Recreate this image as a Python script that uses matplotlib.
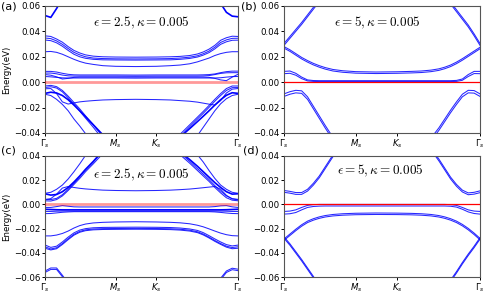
import matplotlib
matplotlib.use("Agg")
import matplotlib.pyplot as plt

# k-path (fraction of total path length) and high-symmetry ticks
kpath = [0.0, 0.03, 0.06, 0.09, 0.12, 0.15, 0.18, 0.21, 0.25, 0.3, 0.366, 0.47,
         0.577, 0.65, 0.7, 0.75, 0.79, 0.82, 0.85, 0.88, 0.91, 0.94, 0.97, 1.0]
k_ticks = [0.0, 0.366, 0.577, 1.0]
k_labels = [r"$\Gamma_s$", r"$M_s$", r"$K_s$", r"$\Gamma_s$"]

# ---- panel (a): eps=2.5 ----
a_top = [0.0525, 0.051, 0.058, 0.066, 0.075, 0.085, 0.095, 0.105, 0.12, 0.14, 0.16, 0.18,
         0.16, 0.14, 0.125, 0.11, 0.098, 0.09, 0.082, 0.073, 0.062, 0.055, 0.052, 0.0515]
a_u1 = [0.0365, 0.036, 0.034, 0.0315, 0.028, 0.025, 0.023, 0.0215, 0.0205, 0.020, 0.0198, 0.0197,
        0.0198, 0.020, 0.0203, 0.021, 0.0222, 0.0238, 0.026, 0.029, 0.033, 0.035, 0.0362, 0.036]
a_u2 = [0.0348, 0.0343, 0.0325, 0.0298, 0.0265, 0.0235, 0.0215, 0.020, 0.019, 0.0186, 0.0184, 0.0183,
        0.0184, 0.0186, 0.019, 0.0197, 0.0208, 0.0224, 0.0245, 0.0275, 0.0313, 0.0333, 0.0345, 0.0346]
a_u3 = [0.0332, 0.0327, 0.031, 0.0283, 0.025, 0.022, 0.020, 0.0188, 0.018, 0.0176, 0.0175, 0.0174,
        0.0175, 0.0176, 0.018, 0.0187, 0.0198, 0.0213, 0.0233, 0.0262, 0.0298, 0.0318, 0.033, 0.0331]
a_u4 = [0.024, 0.0242, 0.0235, 0.022, 0.020, 0.018, 0.0163, 0.015, 0.014, 0.013, 0.0125, 0.0123,
        0.0125, 0.013, 0.0135, 0.0145, 0.016, 0.0175, 0.019, 0.021, 0.0225, 0.0235, 0.024, 0.024]
a_n1 = [0.0085, 0.0085, 0.008, 0.007, 0.0062, 0.0058, 0.0057, 0.0057, 0.0057, 0.0057, 0.0057, 0.0056,
        0.0057, 0.0057, 0.0057, 0.0057, 0.0057, 0.0058, 0.006, 0.0065, 0.0075, 0.0083, 0.0087, 0.0087]
a_n2 = [0.0072, 0.0072, 0.0066, 0.0056, 0.005, 0.0048, 0.0048, 0.0048, 0.0048, 0.0048, 0.0048, 0.0047,
        0.0048, 0.0048, 0.0048, 0.0048, 0.0048, 0.0049, 0.0052, 0.006, 0.0069, 0.0074, 0.0075, 0.0075]
a_n3 = [0.006, 0.0055, 0.0042, 0.0025, 0.003, 0.0038, 0.004, 0.004, 0.004, 0.004, 0.004, 0.004,
        0.004, 0.004, 0.004, 0.004, 0.004, 0.004, 0.0038, 0.003, 0.0018, 0.0012, 0.004, 0.0062]
a_n4 = [0.0045, 0.0042, 0.0038, 0.0034, 0.0033, 0.0033, 0.0033, 0.0033, 0.0033, 0.0033, 0.0033, 0.0032,
        0.0033, 0.0033, 0.0033, 0.0033, 0.0033, 0.0033, 0.0033, 0.0033, 0.0035, 0.004, 0.0044, 0.0045]
a_v1 = [-0.003, -0.0025, -0.0035, -0.0065, -0.011, -0.016, -0.021, -0.0265, -0.0335, -0.043, -0.055, -0.075,
        -0.065, -0.05, -0.041, -0.0335, -0.0275, -0.023, -0.0183, -0.0135, -0.009, -0.005, -0.003, -0.003]
a_v2 = [-0.0042, -0.0036, -0.0046, -0.0076, -0.0123, -0.0175, -0.0228, -0.0283, -0.0355, -0.045, -0.057, -0.077,
        -0.067, -0.052, -0.0428, -0.035, -0.029, -0.0245, -0.0198, -0.015, -0.0105, -0.0065, -0.0043, -0.0042]
a_v3 = [-0.0088, -0.0079, -0.0085, -0.0105, -0.0138, -0.018, -0.0225, -0.0272, -0.0335, -0.0415, -0.052, -0.072,
        -0.062, -0.05, -0.0432, -0.0365, -0.031, -0.0268, -0.0225, -0.018, -0.0138, -0.0103, -0.0083, -0.0088]
a_v4 = [-0.0052, -0.005, -0.009, -0.0155, -0.0172, -0.0163, -0.0155, -0.015, -0.0145, -0.014, -0.0137, -0.0135,
        -0.0137, -0.014, -0.0145, -0.015, -0.0157, -0.0165, -0.0173, -0.018, -0.0145, -0.0085, -0.0055, -0.005]
a_v5 = [-0.0095, -0.0105, -0.0135, -0.0175, -0.0225, -0.029, -0.0345, -0.0405, -0.048, -0.058, -0.07, -0.09,
        -0.08, -0.065, -0.058, -0.049, -0.042, -0.0355, -0.029, -0.0225, -0.017, -0.013, -0.0105, -0.0095]

# ---- panel (b): eps=5 ----
b_c1 = [0.0305, 0.036, 0.0415, 0.047, 0.053, 0.059, 0.065, 0.071, 0.08, 0.09, 0.10, 0.11,
        0.10, 0.095, 0.088, 0.079, 0.0735, 0.069, 0.063, 0.057, 0.051, 0.045, 0.038, 0.0305]
b_c1b = [0.029, 0.0345, 0.04, 0.0455, 0.0515, 0.0575, 0.0635, 0.0695, 0.0785, 0.0885, 0.0985, 0.1085,
         0.0985, 0.0935, 0.0865, 0.0775, 0.072, 0.0675, 0.0615, 0.0555, 0.0495, 0.0435, 0.0365, 0.029]
b_c2 = [0.028, 0.0255, 0.0225, 0.0195, 0.017, 0.0148, 0.013, 0.0115, 0.010, 0.009, 0.0083, 0.008,
        0.0082, 0.0085, 0.0088, 0.0095, 0.0105, 0.0118, 0.0135, 0.0158, 0.0185, 0.0215, 0.0245, 0.0275]
b_c2b = [0.0268, 0.0243, 0.0213, 0.0183, 0.0158, 0.0136, 0.0118, 0.0103, 0.0088, 0.0078, 0.0071, 0.0068,
         0.007, 0.0073, 0.0076, 0.0083, 0.0093, 0.0106, 0.0123, 0.0146, 0.0173, 0.0203, 0.0233, 0.0263]
b_n1 = [0.0085, 0.0088, 0.007, 0.004, 0.0018, 0.0013, 0.0012, 0.0012, 0.0012, 0.0012, 0.0012, 0.0012,
        0.0012, 0.0012, 0.0012, 0.0012, 0.0012, 0.0012, 0.0012, 0.0014, 0.0025, 0.006, 0.0085, 0.0085]
b_n2 = [0.0067, 0.007, 0.0055, 0.0028, 0.001, 0.0006, 0.0005, 0.0005, 0.0005, 0.0005, 0.0005, 0.0005,
        0.0005, 0.0005, 0.0005, 0.0005, 0.0005, 0.0005, 0.0005, 0.0006, 0.0015, 0.0045, 0.0068, 0.0067]
b_v1 = [-0.0092, -0.0075, -0.0064, -0.0068, -0.0115, -0.019, -0.0265, -0.034, -0.0435, -0.055, -0.07, -0.09,
        -0.08, -0.065, -0.055, -0.044, -0.036, -0.029, -0.022, -0.0155, -0.0095, -0.0064, -0.0066, -0.0092]
b_v2 = [-0.0112, -0.0095, -0.0084, -0.0088, -0.0135, -0.021, -0.0285, -0.036, -0.0455, -0.057, -0.072, -0.092,
        -0.082, -0.067, -0.057, -0.046, -0.038, -0.031, -0.024, -0.0175, -0.0115, -0.0084, -0.0086, -0.0112]

# ---- panel (c): eps=2.5 ----
c_c1 = [0.0092, 0.010, 0.0125, 0.016, 0.021, 0.027, 0.0335, 0.0405, 0.048, 0.06, 0.075, 0.09,
        0.08, 0.065, 0.057, 0.048, 0.041, 0.035, 0.028, 0.0215, 0.016, 0.0125, 0.010, 0.0092]
c_c2 = [0.004, 0.0048, 0.0085, 0.0135, 0.0148, 0.014, 0.0133, 0.0128, 0.0123, 0.0118, 0.0115, 0.0113,
        0.0115, 0.0118, 0.0122, 0.0127, 0.0133, 0.0138, 0.0143, 0.0148, 0.0125, 0.0075, 0.0045, 0.0038]
c_c3 = [0.003, 0.0028, 0.004, 0.007, 0.0115, 0.0165, 0.0215, 0.027, 0.0335, 0.042, 0.052, 0.07,
        0.062, 0.052, 0.041, 0.034, 0.028, 0.0235, 0.019, 0.014, 0.0095, 0.0055, 0.0035, 0.003]
c_c4 = [0.0042, 0.004, 0.005, 0.008, 0.0125, 0.0175, 0.023, 0.0285, 0.035, 0.044, 0.055, 0.072,
        0.064, 0.054, 0.0425, 0.0355, 0.0295, 0.025, 0.0205, 0.0155, 0.011, 0.007, 0.0048, 0.0042]
c_c5 = [0.0088, 0.0077, 0.0082, 0.0105, 0.014, 0.0185, 0.0235, 0.029, 0.0355, 0.0445, 0.056, 0.074,
        0.066, 0.055, 0.0435, 0.037, 0.0315, 0.027, 0.0225, 0.018, 0.014, 0.0105, 0.0085, 0.0088]
c_n1 = [-0.0025, -0.0025, -0.0018, -0.001, -0.0015, -0.002, -0.0021, -0.0021, -0.0021, -0.0021, -0.0021, -0.0021,
        -0.0021, -0.0021, -0.0021, -0.0021, -0.0021, -0.0021, -0.0021, -0.0018, -0.0012, -0.001, -0.002, -0.0025]
c_n2 = [-0.004, -0.0042, -0.0044, -0.0045, -0.0045, -0.0045, -0.0045, -0.0045, -0.0045, -0.0045, -0.0045, -0.0045,
        -0.0045, -0.0045, -0.0045, -0.0045, -0.0045, -0.0045, -0.0045, -0.0045, -0.0045, -0.0044, -0.0042, -0.004]
c_n3 = [-0.0058, -0.0058, -0.0056, -0.0055, -0.0055, -0.0055, -0.0055, -0.0055, -0.0055, -0.0055, -0.0055, -0.0055,
        -0.0055, -0.0055, -0.0055, -0.0055, -0.0055, -0.0055, -0.0055, -0.0055, -0.0055, -0.0056, -0.0058, -0.0058]
c_n4 = [-0.0076, -0.0075, -0.007, -0.0065, -0.0062, -0.006, -0.006, -0.006, -0.006, -0.006, -0.006, -0.006,
        -0.006, -0.006, -0.006, -0.006, -0.006, -0.006, -0.006, -0.0062, -0.0066, -0.0071, -0.0075, -0.0076]
c_l1 = [-0.026, -0.026, -0.0253, -0.024, -0.022, -0.0195, -0.0175, -0.0162, -0.0153, -0.0148, -0.0145, -0.0143,
        -0.0145, -0.0148, -0.0152, -0.016, -0.0172, -0.0185, -0.0202, -0.022, -0.0237, -0.025, -0.0258, -0.026]
c_l2 = [-0.0335, -0.0355, -0.0345, -0.031, -0.027, -0.0235, -0.0212, -0.02, -0.0193, -0.019, -0.0189, -0.0188,
        -0.0189, -0.0191, -0.0195, -0.0203, -0.0215, -0.0233, -0.0258, -0.0285, -0.031, -0.0332, -0.0343, -0.0336]
c_l3 = [-0.035, -0.0368, -0.0358, -0.0323, -0.0283, -0.0247, -0.0223, -0.021, -0.0203, -0.02, -0.0199, -0.0198,
        -0.0199, -0.0201, -0.0205, -0.0213, -0.0226, -0.0245, -0.027, -0.0298, -0.0323, -0.0345, -0.0356, -0.035]
c_l4 = [-0.0362, -0.0376, -0.0366, -0.0331, -0.0291, -0.0254, -0.023, -0.0217, -0.021, -0.0207, -0.0206, -0.0205,
        -0.0206, -0.0208, -0.0212, -0.022, -0.0233, -0.0252, -0.0277, -0.0305, -0.033, -0.0353, -0.0366, -0.0362]
c_b1 = [-0.055, -0.0525, -0.0525, -0.0585, -0.065, -0.072, -0.08, -0.09, -0.1, -0.11, -0.12, -0.13,
        -0.12, -0.11, -0.1, -0.09, -0.085, -0.08, -0.074, -0.068, -0.061, -0.055, -0.0527, -0.0535]
c_b2 = [-0.0562, -0.0537, -0.0537, -0.0597, -0.0662, -0.0732, -0.0812, -0.0912, -0.1012, -0.1112, -0.1212, -0.1312,
        -0.1212, -0.1112, -0.1012, -0.0912, -0.0862, -0.0812, -0.0752, -0.0692, -0.0622, -0.0562, -0.0539, -0.0547]

# ---- panel (d): eps=5 ----
d_c1 = [0.0115, 0.0108, 0.0098, 0.0098, 0.0125, 0.0175, 0.0235, 0.031, 0.041, 0.053, 0.068, 0.085,
        0.075, 0.065, 0.057, 0.0465, 0.0375, 0.03, 0.0225, 0.0165, 0.0118, 0.0095, 0.01, 0.0112]
d_c2 = [0.01, 0.0093, 0.0083, 0.0083, 0.011, 0.016, 0.022, 0.0295, 0.0395, 0.0515, 0.0665, 0.0835,
        0.0735, 0.0635, 0.0555, 0.045, 0.036, 0.0285, 0.021, 0.015, 0.0103, 0.008, 0.0085, 0.0097]
d_n1 = [-0.0058, -0.0055, -0.0045, -0.0025, -0.0008, -0.0002, 0.0, 0.0, 0.0, 0.0, 0.0, 0.0,
        0.0, 0.0, 0.0, 0.0, 0.0, 0.0, -0.0002, -0.0008, -0.0025, -0.0045, -0.0055, -0.0058]
d_n2 = [-0.008, -0.0077, -0.0067, -0.0045, -0.0025, -0.0017, -0.0014, -0.0013, -0.0013, -0.0013, -0.0013, -0.0013,
        -0.0013, -0.0013, -0.0013, -0.0013, -0.0013, -0.0013, -0.0015, -0.0022, -0.004, -0.0062, -0.0075, -0.008]
d_l1 = [-0.0285, -0.0245, -0.0205, -0.0168, -0.0138, -0.0118, -0.0103, -0.0092, -0.0083, -0.0077, -0.0073, -0.0071,
        -0.0072, -0.0074, -0.0077, -0.0083, -0.0092, -0.0103, -0.0118, -0.0138, -0.0165, -0.0198, -0.0237, -0.028]
d_l2 = [-0.0297, -0.0257, -0.0217, -0.018, -0.015, -0.013, -0.0115, -0.0104, -0.0095, -0.0089, -0.0085, -0.0083,
        -0.0084, -0.0086, -0.0089, -0.0095, -0.0104, -0.0115, -0.013, -0.015, -0.0177, -0.021, -0.0249, -0.0292]
d_d1 = [-0.0268, -0.0325, -0.039, -0.0455, -0.0525, -0.0595, -0.067, -0.075, -0.085, -0.1, -0.115, -0.13,
        -0.12, -0.11, -0.1, -0.09, -0.076, -0.069, -0.0625, -0.0555, -0.048, -0.041, -0.0345, -0.0275]
d_d2 = [-0.028, -0.0337, -0.0402, -0.0467, -0.0537, -0.0607, -0.0682, -0.0762, -0.0862, -0.1012, -0.1162, -0.1312,
        -0.1212, -0.1112, -0.1012, -0.0912, -0.0772, -0.0702, -0.0637, -0.0567, -0.0492, -0.0422, -0.0357, -0.0287]

panels = [
    dict(label="(a)", text=r"$\epsilon=2.5, \kappa=0.005$", ylim=(-0.04, 0.06),
         yticks=[-0.04, -0.02, 0.0, 0.02, 0.04, 0.06], soft_red=True,
         thin=[a_u1, a_u2, a_u3, a_u4, a_n1, a_n2, a_n3, a_n4, a_v1, a_v2, a_v4, a_v5],
         thick=[a_top, a_v3],
         rect=[0.0928, 0.5507, 0.3979, 0.4291], tpos=(0.5, 0.865)),
    dict(label="(b)", text=r"$\epsilon=5, \kappa=0.005$", ylim=(-0.04, 0.06),
         yticks=[-0.04, -0.02, 0.0, 0.02, 0.04, 0.06], soft_red=False,
         thin=[b_c1, b_c1b, b_c2, b_c2b, b_n1, b_n2, b_v1, b_v2], thick=[],
         rect=[0.5856, 0.5507, 0.4041, 0.4291], tpos=(0.475, 0.865)),
    dict(label="(c)", text=r"$\epsilon=2.5, \kappa=0.005$", ylim=(-0.06, 0.04),
         yticks=[-0.06, -0.04, -0.02, 0.0, 0.02, 0.04], soft_red=True,
         thin=[c_c1, c_c2, c_c3, c_c4, c_n1, c_n3, c_n4, c_l1, c_l2, c_l3, c_l4, c_b1, c_b2],
         thick=[c_c5, c_n2],
         rect=[0.0928, 0.0640, 0.3979, 0.4090], tpos=(0.5, 0.84)),
    dict(label="(d)", text=r"$\epsilon=5, \kappa=0.005$", ylim=(-0.06, 0.04),
         yticks=[-0.06, -0.04, -0.02, 0.0, 0.02, 0.04], soft_red=False,
         thin=[d_c1, d_c2, d_n1, d_n2, d_l1, d_l2, d_d1, d_d2], thick=[],
         rect=[0.5856, 0.0640, 0.4041, 0.4090], tpos=(0.49, 0.88)),
]

label_pos = {"(a)": (0.003, 0.995), "(b)": (0.497, 0.995),
             "(c)": (0.003, 0.507), "(d)": (0.501, 0.507)}

fig = plt.figure(figsize=(4.85, 2.96), dpi=100)

for p in panels:
    ax = fig.add_axes(p["rect"])
    for band in p["thin"]:
        ax.plot(kpath, band, color="#0000ff", lw=0.75, alpha=0.85)
    for band in p["thick"]:
        ax.plot(kpath, band, color="#0000ff", lw=1.2)
    if p["soft_red"]:
        ax.axhline(0.0, color="red", lw=2.0, alpha=0.4, zorder=3)
    else:
        ax.axhline(0.0, color="red", lw=0.9, zorder=3)
    ax.set_xlim(0, 1)
    ax.set_ylim(*p["ylim"])
    ax.set_yticks(p["yticks"])
    ax.set_yticklabels([f"{v:.2f}".replace("-", "\u2212") for v in p["yticks"]])
    ax.set_xticks(k_ticks)
    ax.set_xticklabels(k_labels)
    ax.tick_params(labelsize=6.2, length=2.5, width=0.7, pad=1.0)
    for s in ax.spines.values():
        s.set_linewidth(0.8)
        s.set_color("#555555")
    ax.text(p["tpos"][0], p["tpos"][1], p["text"], transform=ax.transAxes,
            ha="center", va="center", fontsize=9.5, math_fontfamily="cm")
    if p["label"] in ("(a)", "(c)"):
        ax.set_ylabel("Energy(eV)", fontsize=6.2, labelpad=2)
    lx, ly = label_pos[p["label"]]
    fig.text(lx, ly, p["label"], fontsize=8, va="top", ha="left")

fig.savefig("out.png", dpi=100)
